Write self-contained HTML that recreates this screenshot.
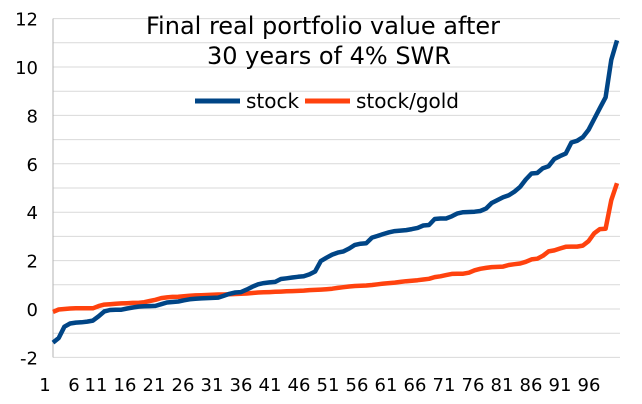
<!DOCTYPE html>
<html><head><meta charset="utf-8"><style>
body{margin:0;background:#fff}
svg{display:block;font-family:"Liberation Sans","DejaVu Sans",sans-serif}
</style></head><body>
<svg id="chart" width="642" height="404" viewBox="0 0 642 404">
<g id="grid"></g><g id="axes"></g><g id="series"></g>
<text x="323" y="34" font-size="24" text-anchor="middle" fill="#000" font-family="DejaVu Sans, sans-serif">Final real portfolio value after</text>
<text x="329" y="64" font-size="24" text-anchor="middle" fill="#000" font-family="DejaVu Sans, sans-serif">30 years of 4% SWR</text>
<g font-family="DejaVu Sans, sans-serif" font-size="20">
<line x1="195" y1="101" x2="240" y2="101" stroke="#004586" stroke-width="5"/>
<text x="246" y="108">stock</text>
<line x1="305" y1="101" x2="350" y2="101" stroke="#ff420e" stroke-width="5"/>
<text x="356" y="108">stock/gold</text>
</g>
</svg>
<script>
const stock=[-1.39,-1.2,-0.73,-0.6,-0.56,-0.55,-0.52,-0.48,-0.3,-0.1,
-0.04,-0.03,-0.03,0.02,0.06,0.1,0.11,0.12,0.13,0.2,
0.27,0.29,0.31,0.36,0.4,0.42,0.44,0.45,0.46,0.47,
0.55,0.63,0.68,0.7,0.8,0.92,1.02,1.07,1.1,1.12,
1.24,1.27,1.3,1.33,1.35,1.43,1.55,1.98,2.12,2.25,
2.33,2.38,2.5,2.65,2.7,2.72,2.95,3.02,3.1,3.17,
3.22,3.24,3.26,3.3,3.35,3.45,3.47,3.72,3.74,3.74,
3.83,3.95,4.0,4.01,4.02,4.05,4.15,4.38,4.5,4.62,
4.7,4.85,5.05,5.35,5.6,5.62,5.82,5.9,6.2,6.32,
6.42,6.88,6.95,7.1,7.4,7.85,8.3,8.75,10.3,11.1];
const stockGold=[-0.12,-0.02,0.0,0.02,0.03,0.03,0.03,0.03,0.12,0.18,
0.2,0.22,0.23,0.24,0.25,0.25,0.28,0.33,0.38,0.45,
0.48,0.5,0.51,0.53,0.55,0.56,0.57,0.58,0.59,0.6,
0.6,0.61,0.62,0.63,0.64,0.66,0.68,0.69,0.7,0.71,
0.72,0.73,0.74,0.75,0.76,0.78,0.79,0.8,0.82,0.84,
0.87,0.9,0.93,0.95,0.96,0.97,0.99,1.02,1.05,1.07,
1.09,1.12,1.15,1.17,1.19,1.22,1.25,1.32,1.35,1.4,
1.45,1.46,1.46,1.5,1.6,1.66,1.7,1.73,1.74,1.75,
1.82,1.85,1.88,1.95,2.05,2.08,2.2,2.38,2.42,2.5,
2.57,2.58,2.58,2.62,2.8,3.13,3.3,3.32,4.5,5.2];
const yTicks=[-2,0,2,4,6,8,10,12];
const xTickLabels=[1,6,11,16,21,26,31,36,41,46,51,56,61,66,71,76,81,86,91,96];

const NS="http://www.w3.org/2000/svg";
const X0=53,X1=617,Y0=309,PU=24.2;
function xScale(i){return X0+(i)*(X1-X0)/(stock.length-1);}
function yScale(v){return Y0-v*PU;}
function labelX(n){ if(n===1) return 45; if(n===6) return 74; return 96+(n-11)*5.8; }
function mk(tag,attrs,parent){const e=document.createElementNS(NS,tag);for(const k in attrs)e.setAttribute(k,attrs[k]);parent.appendChild(e);return e;}
const grid=document.getElementById('grid'),axes=document.getElementById('axes'),series=document.getElementById('series');
for(let v=-2;v<=12;v++){
  const g=mk('line',{x1:X0,x2:X1+3,y1:yScale(v),y2:yScale(v),stroke:'#d9d9d9','stroke-width':1},grid);
  
  
}
const ax=mk('line',{x1:X0,x2:X0,y1:yScale(12),y2:yScale(-2),stroke:'#b3b3b3','stroke-width':1},axes);


yTicks.forEach(v=>{
  const t=mk('text',{x:38,y:yScale(v)+7,'font-size':18,'text-anchor':'end','font-family':'DejaVu Sans, sans-serif'},axes);
  t.textContent=v;
  
  
});
xTickLabels.forEach(n=>{
  const t=mk('text',{x:labelX(n),y:391,'font-size':18,'text-anchor':'middle','font-family':'DejaVu Sans, sans-serif'},axes);
  t.textContent=n;
  
  
});
function draw(arr,color,name){
  const d=arr.map((v,i)=>(i?'L':'M')+xScale(i).toFixed(1)+' '+yScale(v).toFixed(1)).join(' ');
  const p=mk('path',{d:d,fill:'none',stroke:color,'stroke-width':4.5,'stroke-linejoin':'round'},series);
  
  
}
draw(stockGold,'#ff420e','series-stock-gold-line');
draw(stock,'#004586','series-stock-line');
</script>
</body></html>
